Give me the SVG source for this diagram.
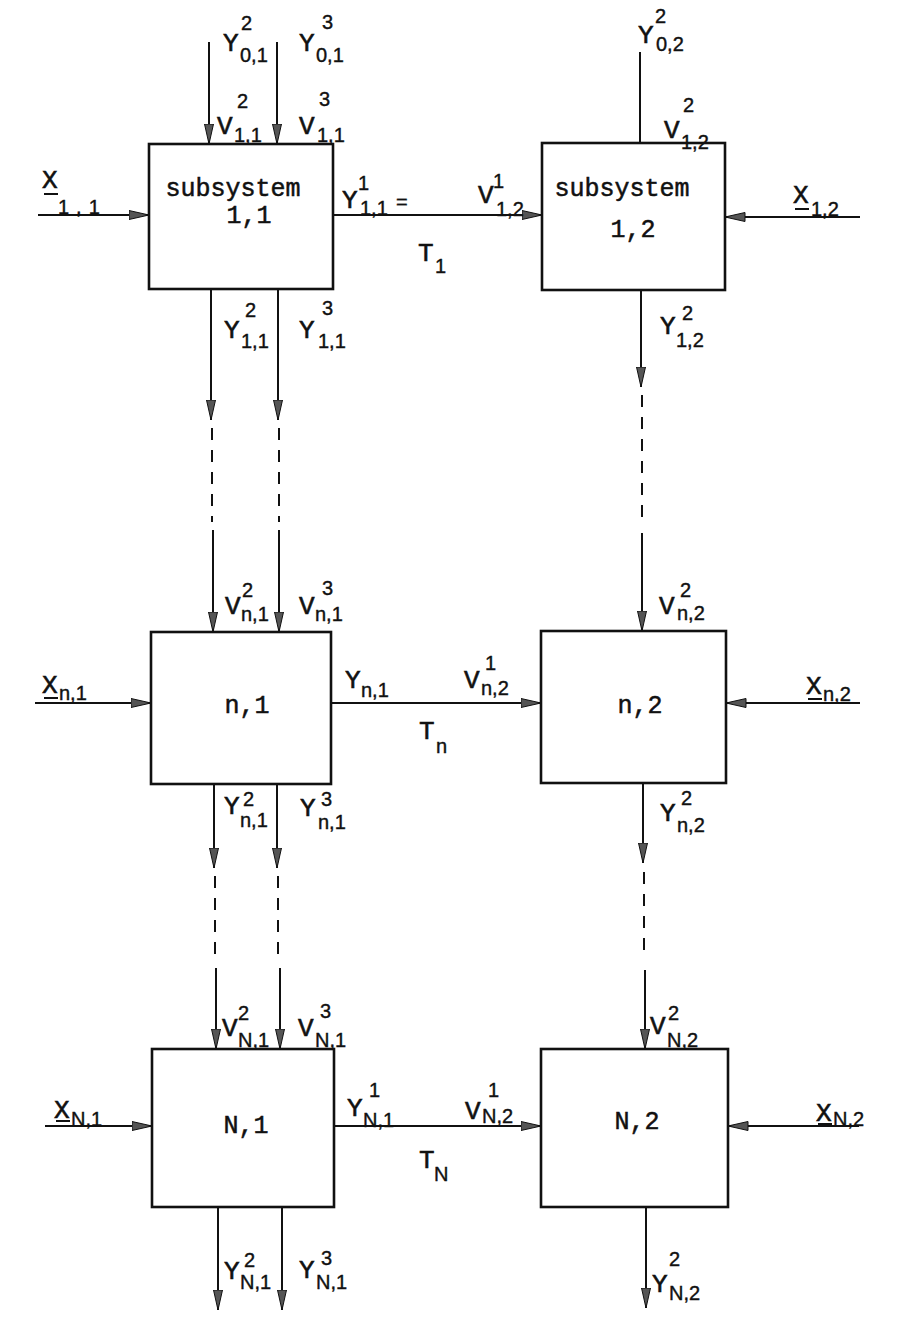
<svg xmlns="http://www.w3.org/2000/svg" width="906" height="1319" viewBox="0 0 906 1319">
<style>
.box{fill:none;stroke:#111;stroke-width:2.6}
.c{stroke:#111;stroke-width:2;fill:none}
.a{marker-end:url(#ah)}
.d{stroke-dasharray:12 10}
.B{font-family:"Liberation Mono","Courier New",monospace;font-size:25px;fill:#111;stroke:#111;stroke-width:0.5}
.L{font-family:"Liberation Mono","Courier New",monospace;font-size:26px;fill:#111;stroke:#111;stroke-width:0.6}
.S{font-family:"Liberation Sans",Arial,sans-serif;font-size:20px;fill:#111;stroke:#111;stroke-width:0.4}
.u{stroke:#111;stroke-width:2}
</style>
<defs>
<marker id="ah" viewBox="0 0 20 10" refX="20" refY="5" markerWidth="21" markerHeight="10" markerUnits="userSpaceOnUse" orient="auto">
<path d="M0,0.5 L20,5 L0,9.5 z" fill="#555" stroke="#111" stroke-width="1"/>
</marker>
</defs>
<rect width="906" height="1319" fill="#fff"/>

<g id="connectors">
<line class="c a" x1="209" y1="42" x2="209" y2="144"/>
<line class="c a" x1="277" y1="42" x2="277" y2="144"/>
<line class="c a" x1="211" y1="289" x2="211" y2="420"/>
<line class="c a" x1="278" y1="289" x2="278" y2="420"/>
<line class="c d" x1="212" y1="428" x2="212" y2="522"/>
<line class="c d" x1="279" y1="428" x2="279" y2="522"/>
<line class="c a" x1="213" y1="530" x2="213" y2="632"/>
<line class="c a" x1="279" y1="530" x2="279" y2="632"/>
<line class="c a" x1="214" y1="784" x2="214" y2="868"/>
<line class="c a" x1="277" y1="784" x2="277" y2="868"/>
<line class="c d" x1="215" y1="876" x2="215" y2="958"/>
<line class="c d" x1="278" y1="876" x2="278" y2="958"/>
<line class="c a" x1="216" y1="968" x2="216" y2="1049"/>
<line class="c a" x1="280" y1="968" x2="280" y2="1049"/>
<line class="c a" x1="218" y1="1207" x2="218" y2="1310"/>
<line class="c a" x1="282" y1="1207" x2="282" y2="1310"/>

<line class="c" x1="640" y1="52" x2="640" y2="143"/>
<line class="c a" x1="641" y1="290" x2="641" y2="387"/>
<line class="c d" x1="642" y1="395" x2="642" y2="523"/>
<line class="c a" x1="642" y1="533" x2="642" y2="631"/>
<line class="c a" x1="643" y1="783" x2="643" y2="863"/>
<line class="c d" x1="644" y1="872" x2="644" y2="960"/>
<line class="c a" x1="645" y1="970" x2="645" y2="1049"/>
<line class="c a" x1="646" y1="1207" x2="646" y2="1308"/>

<line class="c a" x1="38" y1="215" x2="149" y2="215"/>
<line class="c a" x1="333" y1="215" x2="542" y2="215"/>
<line class="c a" x1="860" y1="217" x2="725" y2="217"/>
<line class="c a" x1="35" y1="703" x2="151" y2="703"/>
<line class="c a" x1="331" y1="703" x2="541" y2="703"/>
<line class="c a" x1="860" y1="703" x2="726" y2="703"/>
<line class="c a" x1="45" y1="1126" x2="152" y2="1126"/>
<line class="c a" x1="334" y1="1126" x2="541" y2="1126"/>
<line class="c a" x1="859" y1="1126" x2="728" y2="1126"/>
</g>

<g id="node-1-1">
<rect class="box" x="149" y="144" width="184" height="145"/>
<text class="B" x="233" y="196" text-anchor="middle">subsystem</text>
<text class="B" x="249" y="223" text-anchor="middle">1,1</text>
</g>
<g id="node-1-2">
<rect class="box" x="542" y="143" width="183" height="147"/>
<text class="B" x="622" y="196" text-anchor="middle">subsystem</text>
<text class="B" x="633" y="237" text-anchor="middle">1,2</text>
</g>
<g id="node-n-1">
<rect class="box" x="151" y="632" width="180" height="152"/>
<text class="B" x="247" y="713" text-anchor="middle">n,1</text>
</g>
<g id="node-n-2">
<rect class="box" x="541" y="631" width="185" height="152"/>
<text class="B" x="640" y="713" text-anchor="middle">n,2</text>
</g>
<g id="node-N-1">
<rect class="box" x="152" y="1049" width="182" height="158"/>
<text class="B" x="246" y="1133" text-anchor="middle">N,1</text>
</g>
<g id="node-N-2">
<rect class="box" x="541" y="1049" width="187" height="158"/>
<text class="B" x="637" y="1129" text-anchor="middle">N,2</text>
</g>

<g id="labels">
<text class="L" x="223" y="51">Y</text><text class="S" x="241" y="30">2</text><text class="S" x="240" y="62">0,1</text>
<text class="L" x="299" y="51">Y</text><text class="S" x="322" y="29">3</text><text class="S" x="316" y="62">0,1</text>
<text class="L" x="217" y="134">V</text><text class="S" x="237" y="108">2</text><text class="S" x="234" y="142">1,1</text>
<text class="L" x="299" y="134">V</text><text class="S" x="319" y="106">3</text><text class="S" x="317" y="142">1,1</text>
<text class="L" x="42" y="188">X</text><line class="u" x1="44" y1="194" x2="58" y2="194"/><text class="S" x="58" y="214" letter-spacing="7">1,1</text>
<text class="L" x="342" y="208">Y</text><text class="S" x="358" y="190">1</text><text class="S" x="360" y="215">1,1</text><text class="S" x="396" y="209">=</text>
<text class="L" x="478" y="203">V</text><text class="S" x="493" y="188">1</text><text class="S" x="496" y="216">1,2</text>
<text class="L" x="418" y="261">T</text><text class="S" x="435" y="273">1</text>
<text class="L" x="638" y="43">Y</text><text class="S" x="655" y="23">2</text><text class="S" x="656" y="51">0,2</text>
<text class="L" x="664" y="138">V</text><text class="S" x="683" y="112">2</text><text class="S" x="681" y="149">1,2</text>
<text class="L" x="793" y="203">X</text><line class="u" x1="795" y1="209" x2="809" y2="209"/><text class="S" x="811" y="216">1,2</text>

<text class="L" x="224" y="338">Y</text><text class="S" x="245" y="317">2</text><text class="S" x="241" y="348">1,1</text>
<text class="L" x="299" y="338">Y</text><text class="S" x="322" y="315">3</text><text class="S" x="318" y="348">1,1</text>
<text class="L" x="660" y="334">Y</text><text class="S" x="682" y="320">2</text><text class="S" x="676" y="347">1,2</text>

<text class="L" x="225" y="614">V</text><text class="S" x="242" y="597">2</text><text class="S" x="241" y="621">n,1</text>
<text class="L" x="299" y="614">V</text><text class="S" x="322" y="595">3</text><text class="S" x="315" y="621">n,1</text>
<text class="L" x="659" y="614">V</text><text class="S" x="680" y="597">2</text><text class="S" x="677" y="620">n,2</text>
<text class="L" x="42" y="693">X</text><line class="u" x1="44" y1="698" x2="58" y2="698"/><text class="S" x="59" y="700">n,1</text>
<text class="L" x="345" y="688">Y</text><text class="S" x="361" y="697">n,1</text>
<text class="L" x="464" y="688">V</text><text class="S" x="485" y="670">1</text><text class="S" x="481" y="695">n,2</text>
<text class="L" x="419" y="739">T</text><text class="S" x="436" y="753">n</text>
<text class="L" x="806" y="694">X</text><line class="u" x1="808" y1="699" x2="822" y2="699"/><text class="S" x="823" y="701">n,2</text>
<text class="L" x="224" y="814">Y</text><text class="S" x="243" y="806">2</text><text class="S" x="240" y="827">n,1</text>
<text class="L" x="300" y="816">Y</text><text class="S" x="321" y="806">3</text><text class="S" x="318" y="829">n,1</text>
<text class="L" x="660" y="821">Y</text><text class="S" x="681" y="805">2</text><text class="S" x="677" y="832">n,2</text>

<text class="L" x="222" y="1036">V</text><text class="S" x="238" y="1020">2</text><text class="S" x="238" y="1047">N,1</text>
<text class="L" x="298" y="1036">V</text><text class="S" x="320" y="1018">3</text><text class="S" x="315" y="1047">N,1</text>
<text class="L" x="650" y="1034">V</text><text class="S" x="668" y="1020">2</text><text class="S" x="667" y="1047">N,2</text>
<text class="L" x="54" y="1118">X</text><line class="u" x1="56" y1="1121" x2="70" y2="1121"/><text class="S" x="71" y="1126">N,1</text>
<text class="L" x="347" y="1116">Y</text><text class="S" x="369" y="1097">1</text><text class="S" x="363" y="1127">N,1</text>
<text class="L" x="465" y="1119">V</text><text class="S" x="488" y="1097">1</text><text class="S" x="482" y="1123">N,2</text>
<text class="L" x="419" y="1168">T</text><text class="S" x="434" y="1181">N</text>
<text class="L" x="816" y="1121">X</text><line class="u" x1="818" y1="1124" x2="832" y2="1124"/><text class="S" x="833" y="1126">N,2</text>
<text class="L" x="224" y="1279">Y</text><text class="S" x="244" y="1267">2</text><text class="S" x="240" y="1289">N,1</text>
<text class="L" x="299" y="1278">Y</text><text class="S" x="321" y="1265">3</text><text class="S" x="316" y="1289">N,1</text>
<text class="L" x="652" y="1292">Y</text><text class="S" x="669" y="1266">2</text><text class="S" x="669" y="1300">N,2</text>
</g>
</svg>
